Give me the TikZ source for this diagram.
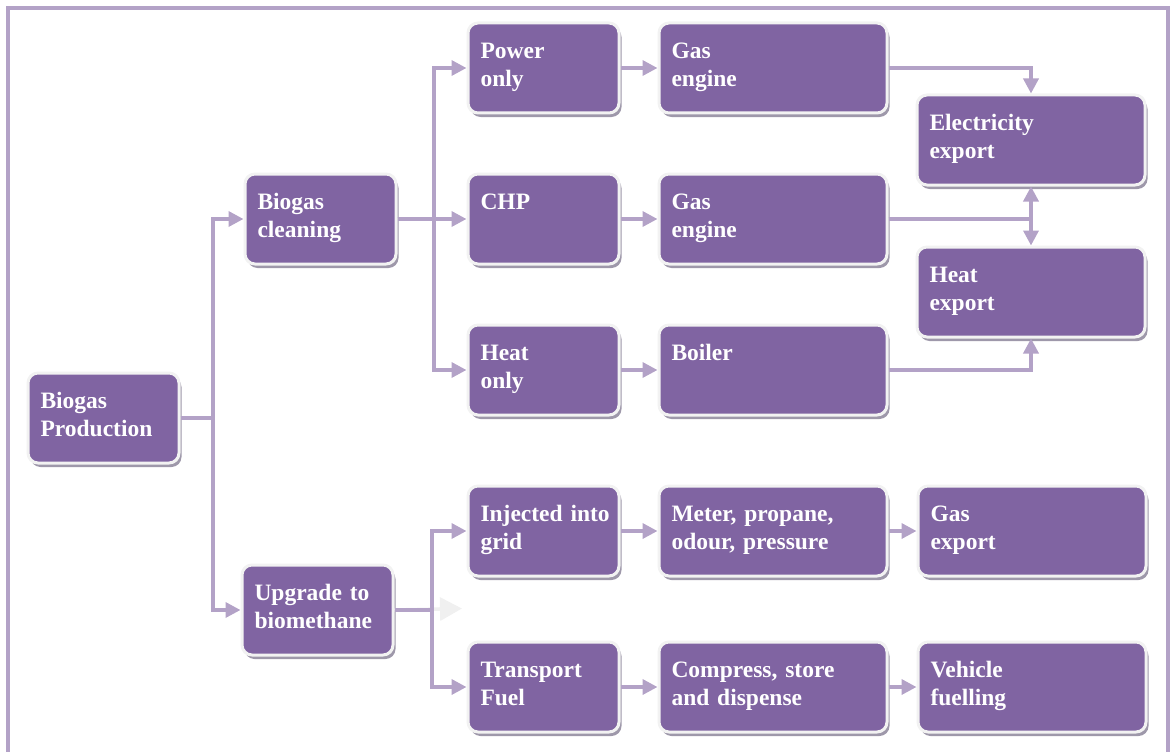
\documentclass[tikz,border=0pt]{standalone}
\usepackage{fontspec}
\setmainfont{Liberation Serif}
\usetikzlibrary{arrows.meta,shadows}
\definecolor{boxfill}{HTML}{8064A2}
\definecolor{conn}{HTML}{B3A2C7}
\definecolor{ring}{HTML}{F2F2F2}
\definecolor{shad}{HTML}{9E98AA}
\definecolor{faint}{HTML}{F0F0F0}
\begin{document}
\begin{tikzpicture}[x=1pt,y=-1pt,
  basebox/.style={draw=ring, line width=3pt, fill=boxfill, rounded corners=10pt,
    anchor=north west, inner xsep=12.5pt, inner ysep=0pt,
    text height=35.5pt, text depth=54.5pt, align=left,
    font=\bfseries\fontsize{23.5}{28}\selectfont, text=white,
    drop shadow={shadow xshift=2.5pt, shadow yshift=-4pt, fill=shad, opacity=1}},
  sbox/.style={basebox, text width=126pt},
  lbox/.style={basebox, text width=203pt},
  arr/.style={draw=conn, line width=3.5pt, -{Triangle[length=15pt,width=15pt]}},
  fadearr/.style={draw=faint, line width=3.5pt, -{Triangle[length=22pt,width=23pt]}},
  frame/.style={draw=conn, line width=4pt}
  ]
\useasboundingbox (0,0) rectangle (1171,752);
\draw[frame] (8,8) rectangle (1168,800);

% column 1 and 2
\node[sbox] (prod)  at (26.5,371.5) {Biogas\\Production};
\node[sbox] (clean) at (243.5,172.5) {Biogas\\cleaning};
\node[sbox] (upg)   at (240.5,563.5) {Upgrade to\\biomethane};
% column 3
\node[sbox] (power) at (466.5,21.5)  {Power\\only};
\node[sbox] (chp)   at (466.5,172.5) {CHP};
\node[sbox] (heat)  at (466.5,323.5) {Heat\\only};
\node[sbox] (inj)   at (466.5,484.5) {\mbox{Injected into}\\grid};
\node[sbox] (trans) at (466.5,640.5) {Transport\\Fuel};
% column 4
\node[lbox] (ge1)   at (657.5,21.5)  {Gas\\engine};
\node[lbox] (ge2)   at (657.5,172.5) {Gas\\engine};
\node[lbox] (boil)  at (657.5,323.5) {Boiler};
\node[lbox] (meter) at (657.5,484.5) {Meter, propane,\\odour, pressure};
\node[lbox] (comp)  at (657.5,640.5) {Compress, store\\and dispense};
% column 5
\node[lbox] (elec)  at (915.5,93.5)  {Electricity\\export};
\node[lbox] (heatx) at (915.5,245.5) {Heat\\export};
\node[lbox] (gasx)  at (916.5,484.5) {Gas\\export};
\node[lbox] (veh)   at (916.5,640.5) {Vehicle\\fuelling};

\coordinate (fadeend) at (462,608.5);
\draw[fadearr] (upg.east) -- (fadeend);

% connectors
\draw[arr] (prod.east) -- ++(32.5,0) |- (clean.west);
\draw[arr] (prod.east) -- ++(32.5,0) |- (upg.west);
\draw[arr] (clean.east) -- ++(36.5,0) |- (power.west);
\draw[arr] (clean.east) -- (chp.west);
\draw[arr] (clean.east) -- ++(36.5,0) |- (heat.west);
\draw[arr] (upg.east) -- ++(37.5,0) |- (inj.west);
\draw[arr] (upg.east) -- ++(37.5,0) |- (trans.west);

\draw[arr] (power.east) -- (ge1.west);
\draw[arr] (chp.east) -- (ge2.west);
\draw[arr] (heat.east) -- (boil.west);
\draw[arr] (inj.east) -- (meter.west);
\draw[arr] (trans.east) -- (comp.west);
\draw[arr] (meter.east) -- (gasx.west);
\draw[arr] (comp.east) -- (veh.west);

\draw[arr] (ge1.east) -| (elec.north);
\draw[arr] (ge2.east) -| (elec.south);
\draw[arr] (ge2.east) -| (heatx.north);
\draw[arr] (boil.east) -| (heatx.south);
\end{tikzpicture}
\end{document}
